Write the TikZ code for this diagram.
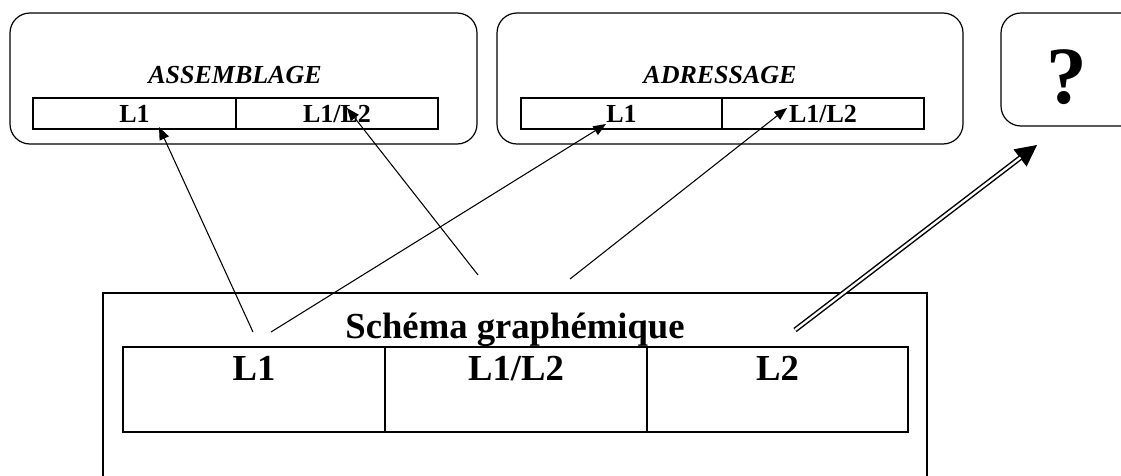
\documentclass[tikz,border=0pt]{standalone}
\usepackage{fontspec}
\setmainfont{Liberation Serif}
\usetikzlibrary{arrows.meta,fit,calc}
\begin{document}
\begin{tikzpicture}[x=0.75pt,y=-0.75pt,
  rbox/.style={draw, line width=0.9pt, rounded corners=15pt, inner sep=0pt},
  sbox/.style={draw, line width=0.9pt, inner sep=0pt},
  cell/.style={draw, line width=1.1pt, inner sep=0pt},
  small/.style={anchor=base, inner sep=0pt, font=\fontsize{19.5}{22}\selectfont\bfseries},
  big/.style={anchor=base, inner sep=0pt, font=\fontsize{27.5}{31}\selectfont\bfseries},
  arr/.style={line width=0.8pt, -{Triangle[length=9.5pt,width=7.5pt]}},
  dblline/.style={draw, double, double distance=1.7pt, line width=1.1pt},
]
\useasboundingbox (0,0) rectangle (1121,475);

% top boxes
\node[rbox, fit={(10,13) (477,144)}] (boxA) {};
\node[rbox, fit={(497,13) (963,144)}] (boxB) {};
\node[rbox, fit={(1001,13) (1160,126)}] (boxC) {};

\node[small, font=\fontsize{19.5}{22}\selectfont\bfseries\itshape] (tA) at (235,83) {ASSEMBLAGE};
\node[small, font=\fontsize{19.5}{22}\selectfont\bfseries\itshape] (tB) at (720,83) {ADRESSAGE};

\node[cell, fit={(33,98) (236,129)}] (A1) {};
\node[cell, fit={(236,98) (438,129)}] (A2) {};
\node[cell, fit={(521,98) (722,129)}] (B1) {};
\node[cell, fit={(722,98) (924,129)}] (B2) {};

\node[small] (A1t) at (134.5,122) {L1};
\node[small] (A2t) at (337,122) {L1/L2};
\node[small] (B1t) at (621.5,122) {L1};
\node[small] (B2t) at (823,122) {L1/L2};

\node[anchor=base, inner sep=0pt, font=\fontsize{61}{66}\selectfont\bfseries] (q) at (1067,103) {?};

% bottom box
\node[sbox, fit={(103,293) (927,495)}] (boxS) {};
\node[big] (tS) at (515,338) {Schéma graphémique};
\node[cell, fit={(123,347) (385,432)}] (S1) {};
\node[cell, fit={(385,347) (647,432)}] (S2) {};
\node[cell, fit={(647,347) (908,432)}] (S3) {};
\node[big] (S1t) at (254,380) {L1};
\node[big] (S2t) at (516,380) {L1/L2};
\node[big] (S3t) at (777.5,380) {L2};

% connector end points
\coordinate (a1s) at (253,332);
\coordinate (a1t) at (159,127);
\coordinate (a2s) at (271,332);
\coordinate (a2t) at (606,124);
\coordinate (a3s) at (478,275);
\coordinate (a3t) at (347,108);
\coordinate (a4s) at (570,279);
\coordinate (a4t) at (787,108);
\coordinate (a5s) at (795,330);
\coordinate (a5t) at (1037,145);

\draw[arr] (a1s) -- (a1t);
\draw[arr] (a2s) -- (a2t);
\draw[arr] (a3s) -- (a3t);
\draw[arr] (a4s) -- (a4t);

% double arrow
\coordinate (a5m) at ($(a5t)!20pt!(a5s)$);
\coordinate (a5b) at ($(a5t)!15.5pt!(a5s)$);
\draw[line width=0.8pt, -{Triangle[length=16pt,width=16pt]}] (a5m) -- (a5t);
\path[dblline] (a5s) -- (a5b);
\end{tikzpicture}
\end{document}
